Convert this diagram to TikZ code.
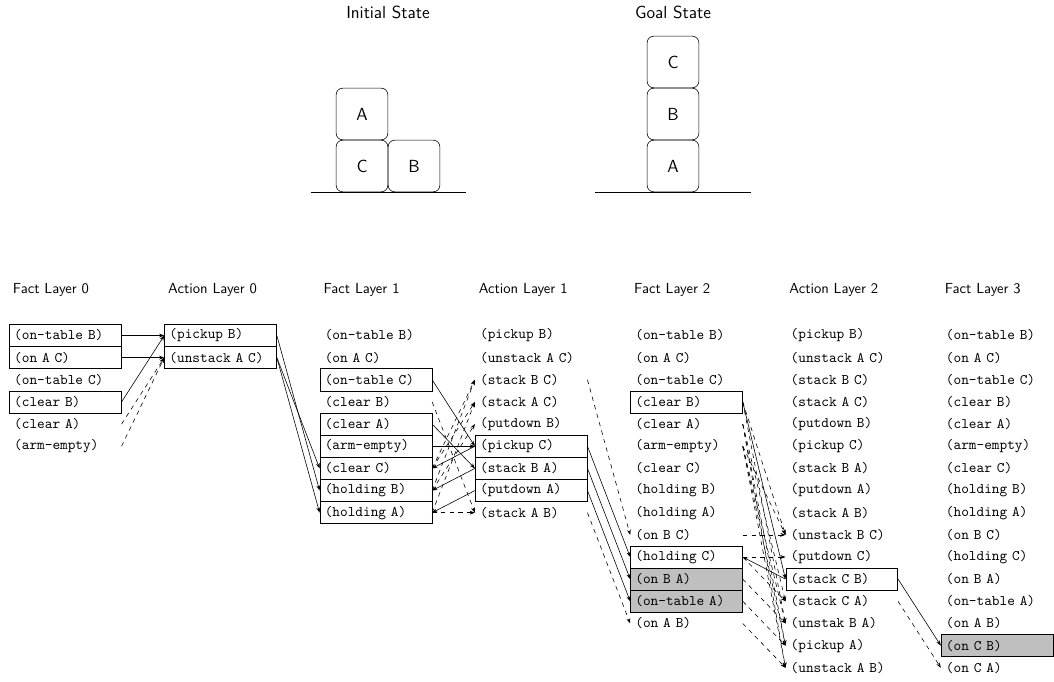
\documentclass[tikz,border=0pt]{standalone}
\usetikzlibrary{arrows.meta}
\begin{document}
\begin{tikzpicture}[x=0.685pt, y=-0.685pt,
  row/.style={anchor=west, font=\ttfamily, minimum height=15.1pt, text width=70pt, inner xsep=3.35pt, inner ysep=0pt, align=left},
  hl/.style={row, draw},
  hlg/.style={row, draw, fill=black!25},
  lab/.style={anchor=west, font=\sffamily, inner xsep=2.5pt},
  ttl/.style={font=\sffamily\large},
  blk/.style={draw, rounded corners=4.5pt, minimum width=35.4pt, minimum height=35.4pt, inner sep=0pt, font=\sffamily\large},
  link/.style={-{Stealth[length=3.6pt,width=2.6pt]}},
  dlink/.style={link, dashed}]
\useasboundingbox (0,0) rectangle (1054,682);

% top: states
\node[ttl] (t1) at (388,12) {Initial State};
\node[ttl] (t2) at (673,12) {Goal State};
\node[blk] (iA) at (362,114) {A};
\node[blk] (iC) at (362,166) {C};
\node[blk] (iB) at (414,166) {B};
\draw (310.7,192.3) -- (465.7,192.3);
\node[blk] (gC) at (673,62) {C};
\node[blk] (gB) at (673,114) {B};
\node[blk] (gA) at (673,166) {A};
\draw (595,192.3) -- (751,192.3);

% headings
\node[lab] (h0) at (9,290) {Fact Layer 0};
\node[lab] (h1) at (164.3,290) {Action Layer 0};
\node[lab] (h2) at (319.6,290) {Fact Layer 1};
\node[lab] (h3) at (474.9,290) {Action Layer 1};
\node[lab] (h4) at (630.2,290) {Fact Layer 2};
\node[lab] (h5) at (785.5,290) {Action Layer 2};
\node[lab] (h6) at (940.8,290) {Fact Layer 3};

% Fact Layer 0
\foreach \s/\txt [count=\i from 0] in {hl/(on-table B), hl/(on A C), row/(on-table C), hl/(clear B), row/(clear A), row/(arm-empty)}
  \node[\s] (F0-\i) at (9,{335.5+22.15*\i}) {\txt};
% Action Layer 0
\foreach \s/\txt [count=\i from 0] in {hl/(pickup B), hl/(unstack A C)}
  \node[\s] (A0-\i) at (164.3,{335.5+22.15*\i}) {\txt};
% Fact Layer 1
\foreach \s/\txt [count=\i from 0] in {row/(on-table B), row/(on A C), hl/(on-table C), row/(clear B), hl/(clear A), hl/(arm-empty), hl/(clear C), hl/(holding B), hl/(holding A)}
  \node[\s] (F1-\i) at (319.6,{335.5+22.15*\i}) {\txt};
% Action Layer 1
\foreach \s/\txt [count=\i from 0] in {row/(pickup B), row/(unstack A C), row/(stack B C), row/(stack A C), row/(putdown B), hl/(pickup C), hl/(stack B A), hl/(putdown A), row/(stack A B)}
  \node[\s] (A1-\i) at (474.9,{335.5+22.15*\i}) {\txt};
% Fact Layer 2
\foreach \s/\txt [count=\i from 0] in {row/(on-table B), row/(on A C), row/(on-table C), hl/(clear B), row/(clear A), row/(arm-empty), row/(clear C), row/(holding B), row/(holding A), row/(on B C), hl/(holding C), hlg/(on B A), hlg/(on-table A), row/(on A B)}
  \node[\s] (F2-\i) at (630.2,{335.5+22.15*\i}) {\txt};
% Action Layer 2
\foreach \s/\txt [count=\i from 0] in {row/(pickup B), row/(unstack A C), row/(stack B C), row/(stack A C), row/(putdown B), row/(pickup C), row/(stack B A), row/(putdown A), row/(stack A B), row/(unstack B C), row/(putdown C), hl/(stack C B), row/(stack C A), row/(unstak B A), row/(pickup A), row/(unstack A B)}
  \node[\s] (A2-\i) at (785.5,{335.5+22.15*\i}) {\txt};
% Fact Layer 3
\foreach \s/\txt [count=\i from 0] in {row/(on-table B), row/(on A C), row/(on-table C), row/(clear B), row/(clear A), row/(arm-empty), row/(clear C), row/(holding B), row/(holding A), row/(on B C), row/(holding C), row/(on B A), row/(on-table A), row/(on A B), hlg/(on C B), row/(on C A)}
  \node[\s] (F3-\i) at (940.8,{335.5+22.15*\i}) {\txt};

% F0 -> A0
\draw[link] (F0-0.east) -- (A0-0.west);
\draw[link] (F0-1.east) -- (A0-1.west);
\draw[link] (F0-3.east) -- (A0-0.west);
\draw[dlink] (F0-4.east) -- (A0-1.west);
\draw[dlink] (F0-5.east) -- (A0-1.west);
% A0 -> F1
\draw[link] (A0-0.east) -- (F1-7.west);
\draw[link] (A0-1.east) -- (F1-6.west);
\draw[link] (A0-1.east) -- (F1-8.west);
% F1 -> A1
\draw[link] (F1-2.east) -- (A1-5.west);
\draw[link] (F1-4.east) -- (A1-6.west);
\draw[link] (F1-5.east) -- (A1-5.west);
\draw[link] (A1-5.west) -- (F1-6.east);
\draw[link] (A1-6.west) -- (F1-7.east);
\draw[link] (A1-7.west) -- (F1-8.east);
\draw[dlink] (F1-6.east) -- (A1-2.west);
\draw[dlink] (F1-7.east) -- (A1-2.west);
\draw[dlink] (F1-6.east) -- (A1-3.west);
\draw[dlink] (F1-8.east) -- (A1-3.west);
\draw[dlink] (F1-7.east) -- (A1-4.west);
\draw[dlink] (F1-3.east) -- (A1-8.west);
\draw[dlink] (F1-8.east) -- (A1-8.west);
% A1 -> F2
\draw[link] (A1-5.east) -- (F2-10.west);
\draw[link] (A1-6.east) -- (F2-11.west);
\draw[link] (A1-7.east) -- (F2-12.west);
\draw[dlink] (A1-2.east) -- (F2-9.west);
\draw[dlink] (A1-8.east) -- (F2-13.west);
% F2 -> A2
\draw[link] (F2-3.east) -- (A2-11.west);
\draw[link] (A2-11.west) -- (F2-10.east);
\draw[dlink] (F2-9.east) -- (A2-9.west);
\draw[dlink] (F2-3.east) -- (A2-9.west);
\draw[dlink] (F2-5.east) -- (A2-9.west);
\draw[dlink] (F2-10.east) -- (A2-10.west);
\draw[dlink] (F2-10.east) -- (A2-12.west);
\draw[dlink] (F2-4.east) -- (A2-12.west);
\draw[dlink] (F2-11.east) -- (A2-13.west);
\draw[dlink] (F2-3.east) -- (A2-13.west);
\draw[dlink] (F2-5.east) -- (A2-13.west);
\draw[dlink] (F2-12.east) -- (A2-14.west);
\draw[dlink] (F2-4.east) -- (A2-14.west);
\draw[dlink] (F2-5.east) -- (A2-14.west);
\draw[dlink] (F2-13.east) -- (A2-15.west);
\draw[dlink] (F2-4.east) -- (A2-15.west);
\draw[dlink] (F2-5.east) -- (A2-15.west);
% A2 -> F3
\draw[link] (A2-11.east) -- (F3-14.west);
\draw[dlink] (A2-12.east) -- (F3-15.west);
\end{tikzpicture}
\end{document}
